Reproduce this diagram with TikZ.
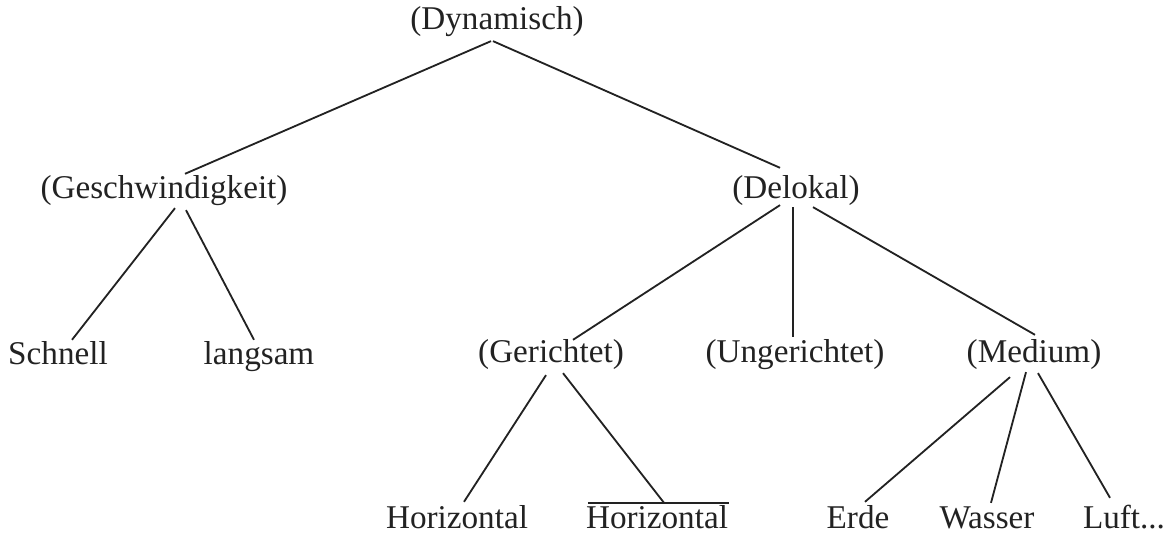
\documentclass[tikz,border=0pt]{standalone}
\usepackage{fontspec}
\setmainfont{Liberation Serif}
\usepackage{tikz}
\usetikzlibrary{positioning,calc}
\usepackage{xcolor}
\definecolor{inkgray}{RGB}{34,34,34}
\newcommand{\wordfont}{\fontsize{23.6}{28}\selectfont}

\begin{document}
\begin{tikzpicture}[
    x=0.025cm, y=-0.025cm,
    word/.style={anchor=base, inner sep=0pt, text height=17pt, text depth=7pt, font=\wordfont, text=inkgray},
    branch/.style={draw=inkgray, line width=1.3pt}
]
    \useasboundingbox (0,0) rectangle (1169,534);

    \node[word] (dyn) at (497,29) {(Dynamisch)};

    \node[word] (gesch) at (164,198) {(Geschwindigkeit)};
    \node[word] (delo) at (796,198) {(Delokal)};

    \node[word] (schnell) at (58,364) {Schnell};
    \node[word] (langsam) at (259,364) {langsam};
    \node[word] (gericht) at (551,362) {(Gerichtet)};
    \node[word] (ungericht) at (795,362) {(Ungerichtet)};
    \node[word] (medium) at (1034,362) {(Medium)};

    \node[word] (horiz) at (457,528) {Horizontal};
    \node[word] (horizbar) at (657,528) {Horizontal};
    \node[word] (erde) at (858,528) {Erde};
    \node[word] (wasser) at (987,528) {Wasser};
    \node[word] (luft) at (1124,528) {Luft...};

    \draw[branch] ($(horizbar.north west)+(2,-1)$) -- ($(horizbar.north east)+(1,-1)$);

    \draw[branch] ($(dyn.south)+(-6,2)$) -- ($(gesch.north)+(21,0)$);
    \draw[branch] ($(dyn.south)+(-4,2)$) -- ($(delo.north)+(-16,-6)$);

    \draw[branch] ($(gesch.south)+(11,0)$) -- ($(schnell.north)+(14,0)$);
    \draw[branch] ($(gesch.south)+(22,2)$) -- ($(langsam.north)+(-5,0)$);

    \draw[branch] ($(delo.south)+(-16,-3)$) -- ($(gericht.north)+(22,2)$);
    \draw[branch] ($(delo.south)+(-3,-1)$) -- ($(ungericht.north)+(-2,-1)$);
    \draw[branch] ($(delo.south)+(17,-1)$) -- ($(medium.north)+(1,-3)$);

    \draw[branch] ($(gericht.south)+(-5,3)$) -- ($(horiz.north)+(7,-2)$);
    \draw[branch] ($(gericht.south)+(12,1)$) -- ($(horizbar.north)+(7,-1)$);

    \draw[branch] ($(medium.south)+(-24,5)$) -- ($(erde.north)+(7,-2)$);
    \draw[branch] ($(medium.south)+(-8,0)$) -- ($(wasser.north)+(4,-1)$);
    \draw[branch] ($(medium.south)+(4,1)$) -- ($(luft.north)+(-14,-6)$);
\end{tikzpicture}
\end{document}
